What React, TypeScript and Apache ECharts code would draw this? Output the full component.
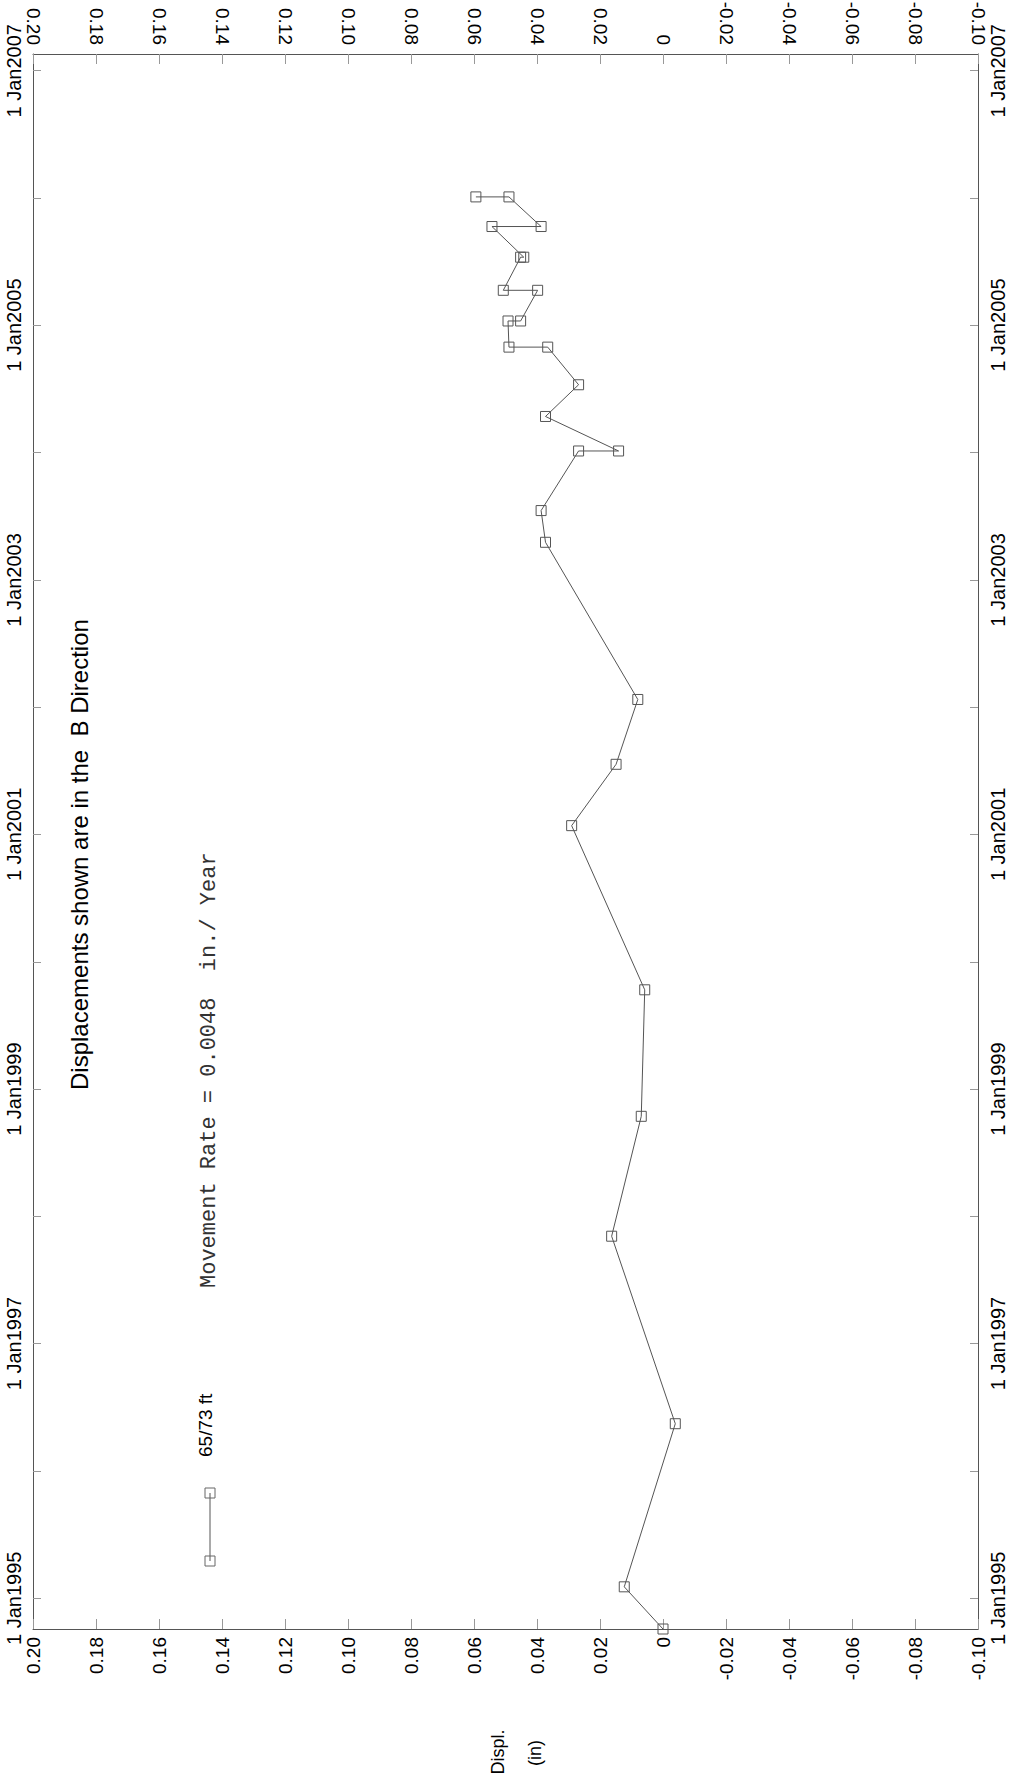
import React, { useEffect, useRef } from "react";
import * as echarts from "echarts";

// Survey dates and displacements (in)
const dates = [
  "1994-10-05", "1995-02-03", "1996-05-16", "1997-11-05", "1998-10-15",
  "1999-10-13", "2001-01-26", "2001-07-21", "2002-01-23", "2003-04-19",
  "2003-07-19", "2004-01-06", "2004-01-06", "2004-04-14", "2004-07-14",
  "2004-10-30", "2004-10-30", "2005-01-13", "2005-01-13", "2005-04-11",
  "2005-04-11", "2005-07-15", "2005-07-15", "2005-10-11", "2005-10-11",
  "2006-01-04", "2006-01-04",
];
const displacements = [
  0.0, 0.0123, -0.0039, 0.0163, 0.0069,
  0.0058, 0.029, 0.0149, 0.008, 0.0373,
  0.0387, 0.0268, 0.0141, 0.0373, 0.0268,
  0.0366, 0.0489, 0.0492, 0.0452, 0.0398,
  0.0507, 0.0452, 0.0442, 0.0543, 0.0387,
  0.0489, 0.0594,
];
const tickYears = [1995, 1996, 1997, 1998, 1999, 2000, 2001, 2002, 2003, 2004, 2005, 2006, 2007];
const labelYears = [1995, 1997, 1999, 2001, 2003, 2005, 2007];
const displMin = -0.1;
const displMax = 0.2;
const displStep = 0.02;
const timeStart = "1994-10-05";
const timeEnd = "2007-02-18";

const titleText = "Displacements shown are in the  B Direction";
const rateText = "Movement Rate = 0.0048  in./ Year";
const legendText = "65/73 ft";

const SANS = '"Liberation Sans", Arial, sans-serif';
const MONO = '"Liberation Mono", "Courier New", monospace';

const toMs = (d: string) => Date.parse(d + "T00:00:00Z");
const yearMs = (y: number) => Date.UTC(y, 0, 1);

export default function App() {
  const ref = useRef<HTMLDivElement>(null);
  useEffect(() => {
    if (!ref.current) return;
    const chart = echarts.init(ref.current, null, { renderer: "svg" });
    const valueFmt = (v: number) => (Math.abs(v) < 1e-9 ? "0" : v.toFixed(2));
    const timeFmt = (v: number) => "1 Jan" + new Date(v).getUTCFullYear();
    const xBase = (pos: "bottom" | "top", margin: number) => ({
      type: "value",
      position: pos,
      min: displMin,
      max: displMax,
      interval: displStep,
      inverse: true,
      axisLine: { show: true, onZero: false, lineStyle: { color: "#555", width: 1 } },
      axisTick: { show: true, inside: true, length: 10, lineStyle: { color: "#999" } },
      axisLabel: {
        rotate: 90,
        margin,
        formatter: valueFmt,
        color: "#000",
        fontSize: 19,
        fontFamily: SANS,
      },
      splitLine: { show: false },
    });
    const yBase = (pos: "left" | "right", margin: number) => ({
      type: "value",
      position: pos,
      min: toMs(timeStart),
      max: toMs(timeEnd),
      axisLine: { show: true, onZero: false, lineStyle: { color: "#555", width: 1 } },
      axisTick: {
        show: true,
        inside: true,
        length: 8,
        customValues: tickYears.map(yearMs),
        lineStyle: { color: "#999" },
      },
      axisLabel: {
        rotate: 90,
        margin,
        customValues: labelYears.map(yearMs),
        formatter: timeFmt,
        color: "#000",
        fontSize: 20,
        fontFamily: SANS,
      },
      splitLine: { show: false },
    });
    const legendStyle = { fill: "rgba(0,0,0,0)", stroke: "#666", lineWidth: 1 };
    chart.setOption({
      animation: false,
      backgroundColor: "#fff",
      grid: { left: 33, right: 35, top: 54, bottom: 157, containLabel: false, outerBoundsMode: "none" },
      xAxis: [xBase("bottom", 8), xBase("top", 9)],
      yAxis: [yBase("left", 9), yBase("right", 10)],
      series: [
        {
          type: "line",
          xAxisIndex: 0,
          yAxisIndex: 0,
          data: dates.map((d, i) => [displacements[i], toMs(d)]),
          symbol: "rect",
          symbolSize: 10,
          showSymbol: true,
          showAllSymbol: true,
          lineStyle: { color: "#555", width: 1 },
          itemStyle: { color: "rgba(0,0,0,0)", borderColor: "#555", borderWidth: 1 },
          emphasis: { disabled: true },
          z: 3,
        },
      ],
      graphic: [
        {
          type: "text",
          x: 79,
          y: 1090,
          rotation: Math.PI / 2,
          style: { text: titleText, font: "24px " + SANS, fill: "#000", align: "left", verticalAlign: "middle" },
        },
        {
          type: "text",
          x: 209,
          y: 1288,
          rotation: Math.PI / 2,
          style: { text: rateText, font: "22px " + MONO, fill: "#333", align: "left", verticalAlign: "middle" },
        },
        {
          type: "text",
          x: 205,
          y: 1457,
          rotation: Math.PI / 2,
          style: { text: legendText, font: "19px " + SANS, fill: "#000", align: "left", verticalAlign: "middle" },
        },
        {
          type: "line",
          shape: { x1: 210, y1: 1493, x2: 210, y2: 1561 },
          style: { stroke: "#555", lineWidth: 1 },
        },
        { type: "rect", shape: { x: 205, y: 1488, width: 10, height: 10 }, style: legendStyle },
        { type: "rect", shape: { x: 205, y: 1556, width: 10, height: 10 }, style: legendStyle },
        {
          type: "text",
          x: 498,
          y: 1752,
          rotation: Math.PI / 2,
          style: { text: "Displ.", font: "18px " + SANS, fill: "#000", align: "center", verticalAlign: "middle" },
        },
        {
          type: "text",
          x: 535,
          y: 1753,
          rotation: Math.PI / 2,
          style: { text: "(in)", font: "18px " + SANS, fill: "#000", align: "center", verticalAlign: "middle" },
        },
      ],
    });
    return () => chart.dispose();
  }, []);
  return (
    <div
      ref={ref}
      style={{ position: "absolute", left: 0, top: 0, width: 1013, height: 1786 }}
    />
  );
}
